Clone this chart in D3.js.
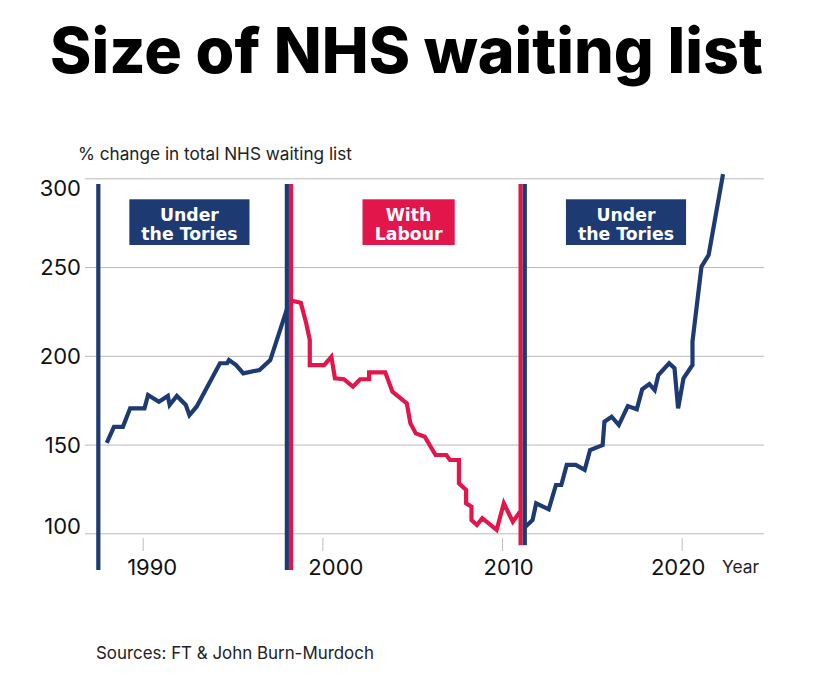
<!DOCTYPE html>
<html><head><meta charset="utf-8">
<script src="https://cdn.jsdelivr.net/npm/d3@7/dist/d3.min.js"></script>
<style>
html,body{margin:0;padding:0;background:#fff;}
svg{display:block;}
text{font-family:Inter, "Noto Sans", sans-serif;}
</style></head>
<body>
<svg id="chart" width="819" height="680"></svg>
<script>
// ---- data ----
const toriesYears1 = [1988.0,1988.4,1988.9,1989.3,1990.1,1990.3,1990.9,1991.4,1991.5,1991.9,1992.4,1992.6,1993.0,1994.3,1994.7,1994.8,1995.2,1995.6,1996.5,1997.1,1998.1];
const toriesValues1 = [151,160,160,170.4,170.4,177.9,174.1,177.4,172.3,177.4,172.3,166.6,171.3,195.8,195.8,197.6,194.8,190.1,192,197.6,228.6];
const labourYears = [1998.1,1998.8,1999.1,1999.3,1999.3,2000.1,2000.5,2000.7,2001.2,2001.7,2002.1,2002.6,2002.6,2003.5,2003.9,2004.7,2004.9,2005.2,2005.7,2006.3,2006.9,2007.1,2007.6,2007.6,2008.0,2008.0,2008.3,2008.3,2008.6,2008.9,2009.7,2010.1,2010.6,2011.0];
const labourValues = [231.4,229.9,218.3,208.9,194.8,194.8,199.5,187.3,186.8,182.6,186.8,186.8,190.7,190.7,179.8,173.2,162,156.3,154.4,144.1,144.1,141.3,141.3,128.2,124.4,116.9,115,107.5,104.7,108.5,101.9,116.9,106.5,112.2];
const toriesYears2 = [2011.3,2011.7,2011.9,2012.6,2013.0,2013.3,2013.6,2014.1,2014.6,2014.9,2015.6,2015.7,2016.1,2016.5,2017.0,2017.5,2017.8,2018.2,2018.5,2018.7,2019.3,2019.6,2019.8,2020.1,2020.6,2020.6,2021.1,2021.5,2022.3];
const toriesValues2 = [103.7,107.5,116.9,113.5,127.2,127.2,138.5,138.5,135.7,146.9,149.7,162.9,165.7,161,171.7,169.9,181.1,184.1,180.7,189.2,195.8,193,170.4,187.3,194.8,208,250.2,256.8,302.4];

const yTicks = [100,150,200,250,300];
const xTicks = [1990,2000,2010,2020];
const xTickLabelShift = [9,13,6,-4];

// government change markers: year, colours (left, right), lowest value reached
const changeYears = [1987.53, 1998.14, 2011.15];
const changeColours = [["tory"],["tory","labour"],["labour","tory"]];
const changeBottoms = [79.3, 79.3, 93.3];

const boxYears = [1992.6, 2004.8, 2016.9];
const boxLines = [["Under","the Tories"],["With","Labour"],["Under","the Tories"]];
const boxParty = ["tory","labour","tory"];

const title = "Size of NHS waiting list";
const yTitle = "% change in total NHS waiting list";
const source = "Sources: FT & John Burn-Murdoch";

// ---- drawing ----
const colour = {tory:"#1e3a72", labour:"#e2164b"};
const svg = d3.select("#chart");

const x = d3.scaleLinear().domain([1990,2020]).range([142.7,681.7]);
const y = d3.scaleLinear().domain([100,300]).range([533.3,178.3]);
const gridX0 = 85, gridX1 = 764;

function fitText(sel, size, width){
  sel.attr("font-size", size);
  const w = sel.node().getComputedTextLength();
  sel.attr("font-size", size*width/w);
}

// title
const t = svg.append("text").attr("x",406.5).attr("y",73)
  .attr("text-anchor","middle").attr("font-weight",800)
  .attr("fill","#000").text(title);
fitText(t, 60, 713);

// y-axis title
const yt = svg.append("text").attr("x",78).attr("y",160).attr("fill","#222").text(yTitle);
fitText(yt, 16, 274);

// grid lines via axis
const yAxis = d3.axisLeft(y).tickValues(yTicks).tickSize(-(gridX1-gridX0)).tickPadding(4);
const gy = svg.append("g").attr("transform",`translate(${gridX0},0)`).call(yAxis);
gy.select(".domain").remove();
gy.selectAll(".tick line").attr("stroke","#b9b9b9").attr("stroke-width",1);
gy.selectAll(".tick text").attr("font-size",22).attr("fill","#111")
  .attr("dy", d => d===300 ? "0.76em" : d===100 ? "0em" : "0.36em");

// x axis
const xAxis = d3.axisBottom(x).tickValues(xTicks).tickSize(14).tickFormat(d3.format("d")).tickPadding(10);
const gx = svg.append("g").attr("transform",`translate(0,538)`).call(xAxis);
gx.select(".domain").remove();
gx.selectAll(".tick line").attr("stroke","#bdbdbd").attr("stroke-width",1).attr("y1",0).attr("y2",13);
gx.selectAll(".tick text").attr("font-size",22).attr("fill","#111")
  .attr("y",21).attr("dy","0.71em")
  .attr("dx",(d,i)=>xTickLabelShift[i]);

const yr = svg.append("text").attr("x",722).attr("y",573).attr("fill","#222").text("Year");
fitText(yr, 16, 37);

// lines
const line = d3.line().x(d=>x(d[0])).y(d=>y(d[1])).curve(d3.curveLinear);
const series = [
  {years:toriesYears1, values:toriesValues1, party:"tory"},
  {years:labourYears, values:labourValues, party:"labour"},
  {years:toriesYears2, values:toriesValues2, party:"tory"}
];
series.forEach(s=>{
  svg.append("path").datum(s.years.map((yr,i)=>[yr,s.values[i]]))
    .attr("d",line).attr("fill","none").attr("stroke",colour[s.party])
    .attr("stroke-width",4.2).attr("stroke-linejoin","miter").attr("stroke-linecap","butt");
});

// vertical change markers
const vTop = y(296.8), vw = 4.2;
changeYears.forEach((yv,i)=>{
  const cols = changeColours[i];
  const cx = x(yv);
  const vBot = y(changeBottoms[i]);
  if(cols.length===1){
    svg.append("rect").attr("x",cx-vw/2).attr("y",vTop).attr("width",vw).attr("height",vBot-vTop).attr("fill",colour[cols[0]]);
  } else {
    svg.append("rect").attr("x",cx-vw).attr("y",vTop).attr("width",vw).attr("height",vBot-vTop).attr("fill",colour[cols[0]]);
    svg.append("rect").attr("x",cx).attr("y",vTop).attr("width",vw).attr("height",vBot-vTop).attr("fill",colour[cols[1]]);
  }
});

// boxes
boxYears.forEach((yv,i)=>{
  const cx = x(yv);
  const g = svg.append("g");
  const txt = g.append("text").attr("text-anchor","middle").attr("fill","#fff")
    .style("font-family","'DejaVu Sans', sans-serif")
    .style("font-weight","700").style("font-size","17.3px");
  boxLines[i].forEach((l,j)=>{
    txt.append("tspan").attr("x",cx).attr("y",221+j*19).text(l);
  });
  const bb = txt.node().getBBox();
  const w = bb.width + 24;
  g.insert("rect","text").attr("x",cx-w/2).attr("y",199.3).attr("width",w).attr("height",45.7).attr("fill",colour[boxParty[i]]);
});

// source
const src = svg.append("text").attr("x",96).attr("y",659).attr("fill","#222").text(source);
fitText(src, 16, 278);
</script>
</body></html>
